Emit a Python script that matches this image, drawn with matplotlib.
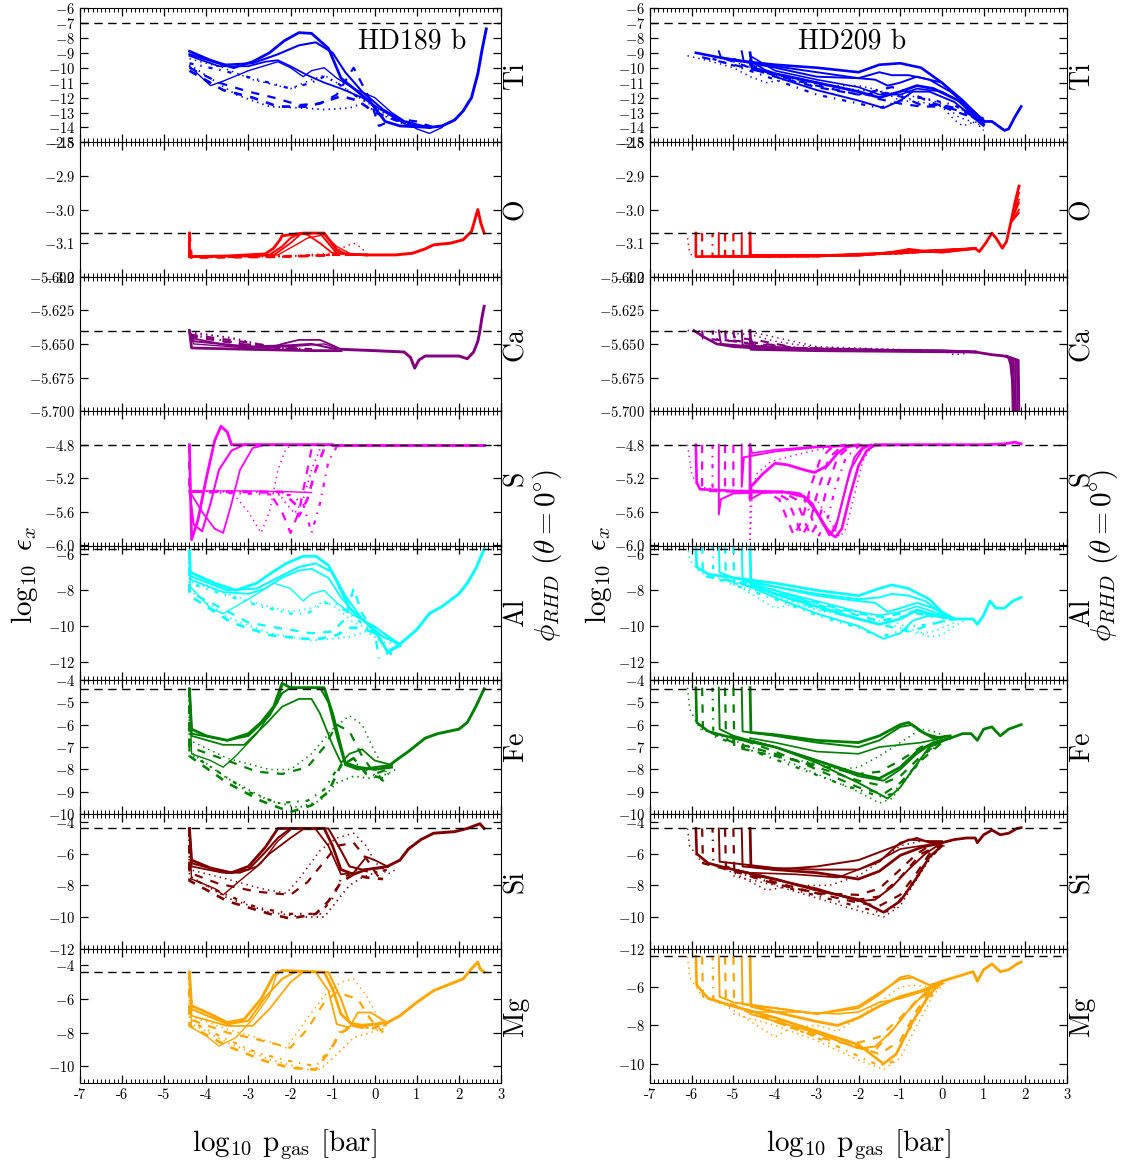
import matplotlib
matplotlib.use('Agg')
import matplotlib.pyplot as plt
from matplotlib.ticker import MultipleLocator, FuncFormatter

plt.rcParams['font.family'] = ['cmr10', 'DejaVu Serif']
plt.rcParams['mathtext.fontset'] = 'cm'
plt.rcParams['axes.unicode_minus'] = False
plt.rcParams['axes.formatter.use_mathtext'] = True
plt.rcParams['lines.scale_dashes'] = False
plt.rcParams['lines.dashed_pattern'] = [6, 6]
plt.rcParams['lines.dashdot_pattern'] = [3, 5, 1, 5]
plt.rcParams['lines.dotted_pattern'] = [1, 3]

elements = ['Ti', 'O', 'Ca', 'S', 'Al', 'Fe', 'Si', 'Mg']
colors = ['blue', 'red', 'purple', 'magenta', 'cyan', 'green', 'maroon', 'orange']
solar = [-7.0, -3.07, -5.64, -4.8, -5.7, -4.4, -4.4, -4.4]
ylims189 = [(-15, -6), (-3.2, -2.8), (-5.7, -5.6), (-6.0, -4.4), (-13, -5.5), (-10, -4), (-12, -3.5), (-11, -3)]
ylims209 = [(-15, -6), (-3.2, -2.8), (-5.7, -5.6), (-6.0, -4.4), (-13, -5.5), (-10, -4), (-12, -3.5), (-11, -4)]
yticks189 = [[-15, -14, -13, -12, -11, -10, -9, -8, -7, -6], [-3.2, -3.1, -3.0, -2.9, -2.8],
             [-5.7, -5.675, -5.65, -5.625, -5.6], [-6.0, -5.6, -5.2, -4.8], [-12, -10, -8, -6],
             [-10, -9, -8, -7, -6, -5, -4], [-12, -10, -8, -6, -4], [-10, -8, -6, -4]]
yticks209 = yticks189[:7] + [[-10, -8, -6]]
yfmt = ['%d', '%.1f', '%.3f', '%.1f', '%d', '%d', '%d', '%d']
xticks = [-7, -6, -5, -4, -3, -2, -1, 0, 1, 2, 3]
xticklabels = ['-7', '-6', '-5', '-4', '-3', '-2', '-1', '0', '1', '2', '3']

# ---------------- HD189 b (left column) ----------------
ti189 = [
    [(-4.4,-8.9),(-3.9,-9.5),(-3.35,-10.0),(-2.9,-9.6),(-2.5,-9.0),(-2.15,-8.2),(-1.8,-7.65),(-1.5,-7.7),(-1.1,-8.7),(-0.8,-10.7),(-0.45,-11.5),(-0.1,-12.3),(0.25,-13.6),(0.6,-13.9),(1.3,-14.0)],
    [(-4.4,-9.1),(-3.6,-9.8),(-2.9,-9.7),(-2.3,-9.1),(-1.8,-8.5),(-1.4,-8.3),(-1.0,-9.0),(-0.7,-10.3),(-0.3,-11.6),(0.2,-12.8),(0.7,-13.6),(1.3,-14.0)],
    [(-4.4,-9.2),(-3.7,-9.9),(-3.0,-9.9),(-2.6,-9.6),(-2.3,-9.5),(-2.0,-9.9),(-1.6,-10.5),(-1.2,-11.0),(-0.8,-11.4),(-0.3,-12.0),(0.2,-12.9),(0.8,-13.9),(1.3,-14.0)],
    [(-4.4,-9.9),(-3.9,-11.2),(-3.6,-10.9),(-3.0,-10.2),(-2.3,-9.6),(-2.0,-10.0),(-1.7,-10.6),(-1.5,-10.2),(-1.2,-10.0),(-0.9,-10.7),(-0.5,-11.4),(0.0,-12.0),(0.4,-13.0),(1.0,-14.1),(1.3,-14.4),(1.6,-14.0)],
    [(-4.4,-9.4),(-3.6,-10.0),(-2.9,-10.8),(-2.0,-11.4),(-1.5,-10.8),(-1.2,-10.5),(-0.9,-11.0),(-0.6,-11.6),(-0.2,-12.3),(0.3,-13.2),(0.8,-13.8),(1.3,-14.0)],
    [(-4.4,-10.0),(-3.7,-11.0),(-3.0,-11.6),(-2.4,-12.0),(-1.8,-12.5),(-1.3,-12.4),(-0.9,-11.8),(-0.5,-10.0),(-0.1,-12.2),(0.1,-13.9),(0.5,-13.4),(1.0,-13.6),(1.4,-14.0)],
    [(-4.4,-9.7),(-3.6,-10.2),(-2.9,-10.7),(-2.0,-11.4),(-1.5,-11.0),(-1.2,-10.6),(-0.9,-11.0),(-0.5,-11.8),(0.0,-12.6),(0.5,-13.3),(1.0,-13.9),(1.4,-14.0)],
    [(-4.4,-10.2),(-3.6,-11.5),(-2.9,-12.0),(-2.3,-12.6),(-1.6,-12.6),(-1.2,-12.3),(-0.8,-11.9),(-0.4,-12.2),(0.0,-13.0),(0.5,-13.5),(1.0,-13.8),(1.4,-14.0)],
    [(-4.4,-9.8),(-3.3,-11.8),(-2.5,-12.6),(-1.7,-12.7),(-1.2,-12.8),(-0.6,-12.7),(-0.3,-12.4),(0.2,-13.2),(0.8,-13.9),(1.3,-14.0)],
]
ti189_tail = [(1.3,-14.0),(1.6,-13.9),(1.9,-13.5),(2.1,-12.9),(2.3,-12.0),(2.45,-10.4),(2.55,-8.8),(2.65,-7.4)]

o189 = [
    [(-4.4,-3.07),(-4.4,-3.14),(-3.5,-3.138),(-2.6,-3.132),(-2.4,-3.115),(-2.25,-3.09),(-2.2,-3.078),(-2.0,-3.075),(-1.7,-3.07),(-1.2,-3.07),(-0.9,-3.12),(-0.7,-3.132),(-0.2,-3.135)],
    [(-4.4,-3.07),(-4.4,-3.14),(-3.0,-3.139),(-2.5,-3.135),(-2.2,-3.11),(-2.0,-3.085),(-1.8,-3.072),(-1.3,-3.07),(-1.1,-3.1),(-0.9,-3.13),(-0.2,-3.135)],
    [(-4.4,-3.14),(-2.4,-3.136),(-2.0,-3.1),(-1.75,-3.072),(-1.6,-3.075),(-1.3,-3.1),(-1.0,-3.13),(-0.2,-3.135)],
    [(-4.4,-3.14),(-2.3,-3.135),(-1.8,-3.1),(-1.6,-3.085),(-1.2,-3.075),(-0.9,-3.11),(-0.6,-3.13)],
    [(-4.4,-3.14),(-2.0,-3.138),(-1.0,-3.13),(-0.7,-3.11),(-0.5,-3.1),(-0.3,-3.115),(-0.2,-3.133)],
    [(-4.4,-3.07),(-4.4,-3.142),(-2.0,-3.14),(-1.0,-3.135),(-0.2,-3.135)],
    [(-4.4,-3.142),(-2.5,-3.14),(-1.2,-3.135),(-0.2,-3.135)],
    [(-4.4,-3.07),(-4.35,-3.143),(-2.5,-3.141),(-1.0,-3.136)],
    [(-4.4,-3.14),(-2.5,-3.14),(-1.0,-3.136)],
]
o189_tail = [(-0.2,-3.135),(0.5,-3.135),(0.9,-3.13),(1.2,-3.117),(1.4,-3.105),(1.8,-3.1),(2.1,-3.09),(2.3,-3.065),(2.45,-3.0),(2.52,-3.04),(2.6,-3.07)]

ca189 = [
    [(-4.4,-5.640),(-4.35,-5.653),(-3.0,-5.654),(-1.5,-5.655),(-0.8,-5.655)],
    [(-4.4,-5.641),(-4.3,-5.648),(-3.0,-5.652),(-2.0,-5.651),(-1.5,-5.650),(-1.2,-5.652),(-0.9,-5.654)],
    [(-4.4,-5.641),(-4.3,-5.646),(-3.5,-5.651),(-2.5,-5.653),(-2.2,-5.650),(-1.8,-5.647),(-1.3,-5.647),(-1.0,-5.651),(-0.8,-5.654)],
    [(-4.4,-5.642),(-4.3,-5.650),(-3.0,-5.653),(-2.0,-5.652),(-1.2,-5.650),(-0.9,-5.653)],
    [(-4.4,-5.642),(-3.5,-5.645),(-2.5,-5.653),(-1.5,-5.654)],
    [(-4.4,-5.643),(-3.0,-5.649),(-2.2,-5.653),(-1.5,-5.654)],
    [(-4.4,-5.643),(-3.5,-5.648),(-2.5,-5.653),(-1.5,-5.654)],
    [(-4.4,-5.644),(-3.8,-5.647),(-2.8,-5.652),(-1.5,-5.654)],
    [(-4.4,-5.641),(-3.3,-5.646),(-2.5,-5.652),(-1.5,-5.654)],
]
ca189_tail = [(-0.8,-5.654),(0.0,-5.655),(0.7,-5.656),(0.85,-5.660),(0.95,-5.668),(1.05,-5.662),(1.2,-5.659),(1.6,-5.659),(2.0,-5.659),(2.2,-5.661),(2.35,-5.656),(2.45,-5.648),(2.5,-5.640),(2.55,-5.630),(2.6,-5.622)]

s189 = [
    [(-4.4,-4.8),(-4.35,-5.93),(-4.2,-5.7),(-4.0,-5.2),(-3.8,-4.75),(-3.65,-4.58),(-3.5,-4.65),(-3.4,-4.8),(-1.0,-4.8)],
    [(-4.4,-5.35),(-4.3,-5.75),(-4.1,-5.83),(-3.9,-5.5),(-3.7,-5.1),(-3.4,-4.87),(-3.1,-4.8),(-1.0,-4.8)],
    [(-4.4,-5.35),(-4.1,-5.6),(-3.8,-5.8),(-3.6,-5.85),(-3.4,-5.5),(-3.2,-5.1),(-2.9,-4.84),(-2.6,-4.8)],
    [(-4.4,-5.35),(-3.0,-5.35),(-2.0,-5.36),(-1.5,-5.37)],
    [(-4.4,-5.35),(-3.4,-5.36),(-3.0,-5.6),(-2.7,-5.85),(-2.5,-5.6),(-2.3,-5.1),(-2.1,-4.84),(-1.9,-4.8)],
    [(-4.4,-4.8),(-4.4,-5.35),(-2.5,-5.37),(-2.2,-5.6),(-2.0,-5.85),(-1.8,-5.6),(-1.6,-5.1),(-1.5,-4.85),(-1.3,-4.8)],
    [(-4.4,-5.36),(-2.0,-5.4),(-1.7,-5.5),(-1.5,-5.85),(-1.3,-5.5),(-1.1,-5.0),(-0.9,-4.82),(-0.8,-4.8)],
    [(-4.4,-4.8),(-4.4,-5.36),(-2.2,-5.36),(-1.9,-5.5),(-1.8,-5.65),(-1.6,-5.45),(-1.4,-5.1),(-1.2,-4.85),(-1.1,-4.8)],
    [(-4.4,-5.35),(-2.3,-5.37),(-2.1,-5.5),(-1.9,-5.62),(-1.7,-5.45),(-1.5,-5.1),(-1.3,-4.85),(-1.2,-4.8)],
]
s189_tail = [(-1.0,-4.8),(0.5,-4.8),(2.0,-4.8),(2.6,-4.8)]

al189 = [
    [(-4.4,-5.8),(-4.38,-7.0),(-3.8,-7.6),(-3.3,-8.0),(-2.8,-7.6),(-2.5,-7.1),(-2.1,-6.5),(-1.7,-6.1),(-1.4,-6.1),(-1.1,-6.6),(-0.9,-7.5),(-0.6,-9.0),(-0.2,-9.8),(0.1,-10.6),(0.3,-11.4),(0.6,-11.1)],
    [(-4.4,-5.8),(-4.38,-7.2),(-3.5,-8.0),(-2.8,-7.9),(-2.3,-7.3),(-1.8,-6.7),(-1.4,-6.5),(-1.0,-7.0),(-0.7,-8.3),(-0.3,-9.6),(0.2,-10.6),(0.6,-11.0)],
    [(-4.4,-5.8),(-4.38,-7.4),(-3.6,-8.1),(-3.0,-8.2),(-2.6,-7.9),(-2.2,-7.3),(-1.8,-6.9),(-1.5,-6.8),(-1.1,-7.3),(-0.8,-8.4),(-0.4,-9.5),(0.1,-10.2),(0.6,-11.0)],
    [(-4.4,-5.8),(-4.38,-7.8),(-3.9,-9.0),(-3.6,-9.3),(-3.0,-8.5),(-2.4,-7.6),(-2.0,-7.9),(-1.7,-8.6),(-1.5,-8.2),(-1.2,-8.0),(-0.9,-8.7),(-0.5,-9.4),(0.0,-10.0),(0.3,-10.6),(0.6,-11.1)],
    [(-4.4,-5.8),(-4.4,-7.5),(-3.5,-8.2),(-2.7,-8.8),(-2.0,-9.2),(-1.5,-9.0),(-1.2,-8.6),(-0.9,-9.0),(-0.5,-9.8),(0.0,-10.3),(0.5,-11.0)],
    [(-4.4,-5.8),(-4.4,-8.1),(-3.8,-8.8),(-3.0,-9.8),(-2.3,-10.1),(-1.5,-10.4),(-1.0,-10.3),(-0.7,-9.6),(-0.5,-7.9),(-0.3,-9.3),(0.0,-10.3),(0.1,-11.8)],
    [(-4.4,-5.8),(-4.4,-7.6),(-3.5,-8.3),(-2.7,-8.9),(-2.0,-9.3),(-1.6,-9.3),(-1.2,-8.7),(-0.9,-8.8),(-0.6,-9.3),(0.0,-10.4),(0.6,-11.0)],
    [(-4.4,-5.8),(-4.4,-8.3),(-3.4,-9.8),(-2.5,-10.5),(-1.7,-10.7),(-1.3,-10.7),(-0.9,-10.5),(-0.6,-10.1),(-0.3,-10.1),(0.0,-10.4),(0.4,-11.6)],
    [(-4.4,-5.8),(-4.4,-8.0),(-3.5,-9.5),(-2.5,-10.4),(-1.5,-10.8),(-1.0,-10.7),(-0.6,-10.6),(-0.2,-10.3),(0.2,-10.9),(0.6,-11.0)],
]
al189_tail = [(0.3,-11.5),(0.6,-11.0),(1.0,-10.2),(1.3,-9.3),(1.6,-8.9),(2.0,-8.2),(2.2,-7.6),(2.4,-6.8),(2.6,-5.7)]

fe189 = [
    [(-4.4,-4.4),(-4.35,-6.2),(-4.0,-6.5),(-3.5,-6.7),(-3.0,-6.4),(-2.7,-5.9),(-2.4,-5.2),(-2.2,-4.15),(-2.0,-4.35),(-1.2,-4.35),(-1.0,-5.5),(-0.8,-7.0),(-0.7,-7.7),(-0.4,-7.9),(0.0,-8.0),(0.4,-7.9)],
    [(-4.4,-4.4),(-4.35,-6.4),(-3.5,-6.7),(-3.0,-6.5),(-2.5,-5.6),(-2.2,-4.6),(-2.0,-4.35),(-1.3,-4.35),(-1.1,-5.0),(-0.9,-6.5),(-0.7,-7.8),(-0.4,-8.0),(0.0,-7.9),(0.4,-7.8)],
    [(-4.4,-4.4),(-4.35,-6.5),(-3.6,-6.9),(-3.1,-6.9),(-2.6,-6.0),(-2.2,-5.2),(-1.8,-4.85),(-1.5,-4.85),(-1.3,-5.5),(-1.0,-6.9),(-0.8,-7.7),(-0.6,-7.3),(-0.3,-7.1),(0.0,-7.6),(0.4,-7.8)],
    [(-4.4,-4.4),(-4.35,-7.3),(-3.9,-7.6),(-3.6,-7.9),(-3.3,-7.4),(-2.8,-6.4),(-2.3,-5.0),(-2.2,-4.3)],
    [(-4.4,-4.4),(-4.4,-6.7),(-3.5,-7.5),(-2.5,-8.0),(-2.0,-8.0),(-1.5,-7.3),(-1.0,-6.2),(-0.6,-5.6),(-0.3,-6.0),(0.0,-7.2),(0.3,-8.2),(0.5,-8.0)],
    [(-4.4,-4.4),(-4.4,-7.0),(-3.5,-7.6),(-2.8,-8.1),(-2.2,-8.2),(-1.6,-7.9),(-1.2,-7.0),(-0.9,-6.0),(-0.6,-6.3),(-0.3,-7.4),(0.0,-8.2),(0.3,-8.0)],
    [(-4.4,-4.4),(-4.4,-7.3),(-3.8,-8.0),(-3.0,-9.0),(-2.3,-9.5),(-1.6,-9.4),(-1.2,-8.9),(-0.9,-8.0),(-0.6,-7.6),(-0.3,-7.9),(0.2,-8.5),(0.4,-8.0)],
    [(-4.4,-4.4),(-4.4,-7.4),(-3.5,-8.6),(-2.7,-9.4),(-2.0,-9.9),(-1.5,-9.6),(-1.1,-9.0),(-0.8,-7.8),(-0.5,-7.5),(-0.2,-8.2),(0.2,-8.4)],
    [(-4.4,-4.4),(-4.4,-7.2),(-3.5,-8.4),(-2.5,-9.4),(-1.8,-9.7),(-1.3,-9.4),(-0.9,-8.6),(-0.5,-8.3),(-0.1,-8.4),(0.3,-8.2)],
]
fe189_tail = [(0.3,-7.9),(0.5,-7.6),(0.8,-7.2),(1.2,-6.6),(1.5,-6.4),(2.0,-6.2),(2.2,-5.9),(2.4,-5.2),(2.6,-4.4)]

si189 = [
    [(-4.4,-4.4),(-4.35,-6.4),(-3.9,-6.9),(-3.4,-7.2),(-3.0,-6.8),(-2.6,-5.6),(-2.3,-4.4),(-1.2,-4.4),(-1.0,-5.5),(-0.8,-7.0),(-0.5,-7.3),(-0.2,-7.0),(0.3,-6.8)],
    [(-4.4,-4.4),(-4.35,-6.6),(-3.5,-7.2),(-3.0,-7.0),(-2.6,-5.9),(-2.3,-5.0),(-2.0,-4.4),(-1.1,-4.4),(-0.8,-5.8),(-0.6,-6.8),(-0.3,-7.0),(0.2,-6.9)],
    [(-4.4,-4.4),(-4.35,-6.8),(-3.6,-7.2),(-3.2,-7.2),(-2.8,-6.8),(-2.5,-6.0),(-2.0,-5.0),(-1.7,-4.45),(-1.4,-4.45),(-1.1,-5.5),(-0.8,-7.3),(-0.5,-7.2),(-0.2,-6.2),(0.0,-6.4),(0.3,-6.8)],
    [(-4.4,-4.4),(-4.35,-7.6),(-3.8,-8.2),(-3.6,-8.6),(-3.2,-7.7),(-2.7,-6.6),(-2.3,-5.2),(-2.0,-4.5)],
    [(-4.4,-4.4),(-4.4,-7.0),(-3.5,-7.6),(-2.7,-8.2),(-2.1,-8.5),(-1.8,-7.6),(-1.3,-5.8),(-0.9,-5.0),(-0.5,-4.7),(-0.2,-5.5),(0.0,-6.5),(0.3,-7.3),(0.5,-7.0)],
    [(-4.4,-4.4),(-4.4,-7.2),(-3.7,-7.9),(-2.8,-8.4),(-2.0,-8.6),(-1.6,-7.8),(-1.2,-6.5),(-0.9,-5.5),(-0.5,-5.3),(-0.2,-6.3),(0.1,-7.5)],
    [(-4.4,-4.4),(-4.4,-7.5),(-3.6,-8.5),(-2.8,-9.4),(-2.0,-9.8),(-1.3,-9.8),(-1.0,-8.8),(-0.8,-7.6),(-0.4,-7.0),(0.0,-7.2),(0.3,-7.0)],
    [(-4.4,-4.4),(-4.4,-7.7),(-3.5,-9.0),(-2.5,-9.8),(-2.0,-10.1),(-1.4,-9.8),(-1.1,-9.0),(-0.8,-7.8),(-0.5,-7.3),(-0.2,-7.5),(0.2,-7.6)],
    [(-4.4,-4.4),(-4.4,-7.4),(-3.5,-8.8),(-2.5,-9.7),(-1.7,-10.0),(-1.2,-10.0),(-0.9,-9.0),(-0.6,-8.0),(-0.3,-7.5),(0.1,-7.1)],
]
si189_tail = [(0.3,-6.8),(0.6,-6.4),(0.8,-5.7),(1.1,-5.1),(1.4,-4.7),(1.9,-4.6),(2.2,-4.4),(2.4,-4.2),(2.5,-4.1),(2.6,-4.4)]

mg189 = [
    [(-4.4,-4.4),(-4.35,-6.4),(-3.9,-6.9),(-3.5,-7.4),(-3.1,-7.2),(-2.7,-6.0),(-2.4,-4.6),(-2.2,-4.3),(-1.2,-4.4),(-1.0,-5.4),(-0.8,-6.9),(-0.5,-7.6),(0.0,-7.5),(0.3,-7.4)],
    [(-4.4,-4.4),(-4.35,-6.6),(-3.5,-7.5),(-3.0,-7.3),(-2.6,-5.9),(-2.2,-4.8),(-1.9,-4.4),(-1.1,-4.4),(-0.8,-6.0),(-0.6,-7.4),(-0.2,-7.6),(0.2,-7.4)],
    [(-4.4,-4.4),(-4.35,-7.0),(-3.5,-7.6),(-2.9,-7.6),(-2.5,-6.6),(-2.0,-5.0),(-1.7,-4.4),(-1.4,-4.4),(-1.1,-5.5),(-0.9,-7.5),(-0.6,-7.7),(-0.4,-6.8),(-0.1,-6.8),(0.3,-7.4)],
    [(-4.4,-4.4),(-4.35,-7.7),(-4.0,-8.2),(-3.7,-8.8),(-3.3,-8.3),(-2.9,-7.2),(-2.5,-5.8),(-2.3,-4.3)],
    [(-4.4,-4.4),(-4.4,-7.0),(-3.5,-7.8),(-2.8,-8.3),(-2.1,-8.9),(-1.7,-7.5),(-1.2,-5.8),(-0.8,-5.0),(-0.5,-4.8),(-0.2,-5.8),(0.1,-7.2),(0.3,-7.6)],
    [(-4.4,-4.4),(-4.4,-7.2),(-3.5,-8.0),(-2.8,-8.4),(-2.0,-8.9),(-1.6,-7.8),(-1.2,-6.2),(-0.9,-5.6),(-0.4,-6.0),(-0.1,-7.2),(0.2,-8.0)],
    [(-4.4,-4.4),(-4.4,-7.3),(-3.6,-8.3),(-2.8,-9.2),(-2.0,-9.7),(-1.4,-10.0),(-1.0,-8.8),(-0.8,-7.8),(-0.4,-7.6),(0.0,-7.8),(0.3,-7.5)],
    [(-4.4,-4.4),(-4.4,-7.6),(-3.5,-8.8),(-2.6,-9.7),(-2.0,-10.1),(-1.4,-10.2),(-1.1,-9.2),(-0.8,-8.0),(-0.5,-7.6),(-0.1,-7.8),(0.2,-7.5)],
    [(-4.4,-4.4),(-4.4,-7.4),(-3.5,-8.6),(-2.5,-9.6),(-1.6,-10.2),(-1.3,-10.2),(-0.9,-9.3),(-0.5,-8.3),(-0.1,-8.0),(0.3,-7.7)],
]
mg189_tail = [(0.3,-7.4),(0.6,-7.0),(1.0,-6.2),(1.4,-5.5),(1.8,-5.1),(2.1,-4.8),(2.3,-4.2),(2.45,-3.8),(2.5,-4.2),(2.6,-4.4)]

# ---------------- HD209 b (right column) ----------------
ti209 = [
    [(-5.9,-9.0),(-5.0,-9.5),(-4.0,-9.8),(-3.0,-10.0),(-2.0,-10.3),(-1.5,-9.8),(-1.0,-9.7),(-0.5,-10.0),(0.0,-11.0),(0.5,-12.2),(1.0,-13.6)],
    [(-5.35,-8.9),(-5.3,-9.3),(-4.0,-9.9),(-3.0,-10.3),(-2.0,-10.7),(-1.5,-10.3),(-1.2,-10.5),(-0.8,-10.5),(-0.3,-10.8),(0.2,-11.6),(0.6,-12.5),(1.0,-13.5)],
    [(-4.8,-8.9),(-4.75,-9.6),(-4.0,-10.0),(-3.0,-10.6),(-2.0,-10.7),(-1.6,-10.8),(-1.3,-11.2),(-1.0,-11.0),(-0.6,-10.6),(0.0,-11.0),(0.5,-12.3),(1.0,-13.7)],
    [(-4.6,-9.0),(-4.55,-10.0),(-4.0,-10.4),(-3.0,-11.0),(-2.0,-11.6),(-1.5,-12.0),(-1.0,-11.6),(-0.6,-11.2),(-0.2,-11.4),(0.4,-12.2),(1.0,-13.8)],
    [(-4.6,-9.2),(-4.0,-10.2),(-3.0,-10.8),(-2.0,-11.3),(-1.5,-11.8),(-1.0,-11.8),(-0.6,-11.4),(0.0,-11.6),(0.5,-12.4),(1.0,-13.6)],
    [(-4.6,-9.5),(-4.0,-10.6),(-3.0,-11.5),(-2.0,-12.2),(-1.4,-12.7),(-1.0,-12.2),(-0.7,-11.6),(-0.3,-11.6),(0.3,-12.3),(1.0,-13.9)],
    [(-5.75,-9.3),(-5.0,-9.8),(-4.0,-10.5),(-3.0,-11.2),(-2.0,-11.8),(-1.3,-11.7),(-0.9,-12.0),(-0.5,-12.5),(0.0,-12.5),(0.5,-12.8),(1.0,-13.5)],
    [(-5.2,-9.4),(-4.0,-10.6),(-3.0,-11.3),(-2.0,-11.8),(-1.2,-11.3),(-0.8,-11.6),(-0.3,-12.3),(0.3,-12.8),(1.0,-13.4)],
    [(-5.0,-9.4),(-4.0,-10.4),(-3.0,-11.0),(-2.0,-11.6),(-1.5,-12.1),(-1.0,-12.4),(-0.5,-12.6),(0.0,-12.6),(0.5,-13.1),(1.0,-13.6)],
    [(-5.5,-9.4),(-4.5,-10.3),(-3.0,-11.8),(-2.0,-12.4),(-1.5,-12.7),(-1.0,-12.2),(-0.5,-12.0),(0.3,-12.5),(1.0,-13.8)],
    [(-6.1,-9.2),(-5.5,-9.6),(-5.0,-10.0),(-4.6,-10.6),(-4.2,-11.0),(-3.8,-10.8),(-3.0,-11.2),(-2.0,-11.2),(-1.5,-11.5),(-1.0,-12.2),(-0.5,-12.3),(0.0,-12.6),(0.3,-13.5),(0.5,-13.9),(0.8,-13.6),(1.0,-14.2)],
    [(-5.0,-9.6),(-4.0,-10.5),(-3.0,-11.1),(-2.0,-11.5),(-1.5,-11.6),(-1.0,-11.8),(-0.5,-12.0),(0.0,-12.4),(0.4,-13.3),(1.0,-13.9)],
]
ti209_tail = [(1.0,-13.6),(1.2,-13.6),(1.35,-13.9),(1.5,-14.2),(1.6,-14.1),(1.75,-13.3),(1.9,-12.6)]

o209 = [
    [(-5.9,-3.07),(-5.9,-3.14),(-4.0,-3.139),(-2.0,-3.136),(-1.0,-3.126),(-0.8,-3.118),(-0.5,-3.123),(0.0,-3.127),(0.5,-3.12),(0.8,-3.116)],
    [(-5.35,-3.07),(-5.35,-3.14),(-3.0,-3.138),(-1.5,-3.132),(-0.9,-3.12),(-0.6,-3.122),(0.0,-3.127),(0.8,-3.116)],
    [(-4.8,-3.07),(-4.8,-3.138),(-3.0,-3.137),(-1.5,-3.132),(-1.0,-3.124),(-0.5,-3.126),(0.8,-3.116)],
    [(-4.6,-3.07),(-4.6,-3.138),(-3.0,-3.138),(-1.0,-3.128),(0.8,-3.116)],
    [(-4.6,-3.07),(-4.58,-3.135),(-2.0,-3.135),(-1.0,-3.126),(0.8,-3.116)],
    [(-4.6,-3.135),(-2.0,-3.137),(-0.8,-3.125),(0.8,-3.116)],
    [(-5.75,-3.07),(-5.75,-3.14),(-3.0,-3.139),(-1.0,-3.13),(0.8,-3.116)],
    [(-5.2,-3.07),(-5.2,-3.14),(-3.0,-3.139),(-1.0,-3.13),(0.8,-3.116)],
    [(-5.0,-3.07),(-5.0,-3.14),(-3.0,-3.138),(-1.0,-3.13),(0.8,-3.116)],
    [(-5.5,-3.07),(-5.5,-3.14),(-3.0,-3.139),(-1.0,-3.13),(0.8,-3.116)],
    [(-6.1,-3.085),(-6.05,-3.13),(-5.95,-3.14),(-3.0,-3.139),(-1.0,-3.132),(0.8,-3.116)],
    [(-5.0,-3.139),(-3.0,-3.138),(-1.0,-3.13),(0.8,-3.116)],
]
o209_tail = [(0.8,-3.116),(0.9,-3.125),(1.05,-3.1),(1.2,-3.07),(1.3,-3.085),(1.45,-3.115),(1.55,-3.095),(1.65,-3.04),(1.75,-2.98),(1.85,-2.93)]
o209_fan = [-2.95, -2.97, -2.98, -3.0, -3.01]

ca209 = [
    [(-5.95,-5.640),(-5.7,-5.645),(-5.4,-5.650),(-5.0,-5.652),(-4.0,-5.654),(-2.0,-5.655),(0.0,-5.655),(0.8,-5.656)],
    [(-5.35,-5.640),(-5.3,-5.650),(-4.5,-5.652),(-3.0,-5.654),(0.0,-5.655),(0.8,-5.656)],
    [(-4.8,-5.640),(-4.78,-5.651),(-3.0,-5.654),(0.8,-5.656)],
    [(-4.6,-5.640),(-4.58,-5.654),(-3.0,-5.655),(0.8,-5.656)],
    [(-4.6,-5.645),(-4.5,-5.652),(-3.0,-5.654),(0.8,-5.656)],
    [(-4.6,-5.648),(-4.4,-5.654),(0.8,-5.656)],
    [(-5.75,-5.640),(-5.73,-5.646),(-5.0,-5.648),(-4.0,-5.653),(0.8,-5.656)],
    [(-5.2,-5.640),(-5.18,-5.647),(-4.5,-5.649),(-3.5,-5.653),(0.8,-5.656)],
    [(-5.0,-5.640),(-4.98,-5.645),(-4.3,-5.648),(-3.5,-5.653),(0.8,-5.656)],
    [(-5.5,-5.640),(-5.48,-5.646),(-4.5,-5.650),(-3.0,-5.654),(0.8,-5.656)],
    [(-6.1,-5.640),(-5.5,-5.641),(-4.6,-5.643),(-4.0,-5.648),(-3.0,-5.653),(0.0,-5.655),(0.3,-5.658),(0.6,-5.657)],
    [(-4.6,-5.641),(-4.0,-5.645),(-3.0,-5.652),(0.8,-5.656)],
]
ca209_tail = [(0.8,-5.656),(1.0,-5.657),(1.2,-5.658),(1.5,-5.659),(1.6,-5.660),(1.65,-5.665),(1.7,-5.680),(1.75,-5.710)]
ca209_fan = [1.68, 1.72, 1.76, 1.80, 1.84]

s209 = [
    [(-5.9,-4.8),(-5.88,-5.25),(-5.8,-5.33),(-5.0,-5.35),(-3.8,-5.36),(-3.3,-5.42),(-3.0,-5.6),(-2.7,-5.85),(-2.55,-5.9),(-2.4,-5.8),(-2.2,-5.4),(-2.0,-5.05),(-1.8,-4.87),(-1.6,-4.8)],
    [(-5.35,-4.8),(-5.35,-5.63),(-5.3,-5.45),(-5.0,-5.38),(-4.0,-5.36),(-3.5,-5.37),(-3.2,-5.45),(-2.9,-5.7),(-2.7,-5.88),(-2.55,-5.8),(-2.4,-5.5),(-2.2,-5.1),(-1.9,-4.85),(-1.7,-4.8)],
    [(-4.8,-4.8),(-4.8,-5.3),(-4.75,-4.95),(-4.0,-4.88),(-3.0,-4.83),(-2.0,-4.81),(0.0,-4.8)],
    [(-4.6,-4.8),(-4.6,-5.45),(-4.58,-5.3),(-4.3,-5.15),(-4.0,-5.02),(-3.7,-5.04),(-3.3,-5.1),(-3.05,-5.13),(-2.75,-5.05),(-2.5,-4.9),(-2.3,-4.83),(-2.0,-4.8)],
    [(-4.6,-4.8),(-4.55,-4.9),(-4.0,-4.86),(-3.0,-4.82),(-2.0,-4.81),(0.0,-4.8)],
    [(-4.6,-5.45),(-4.3,-5.37),(-3.8,-5.36),(-3.4,-5.38),(-3.1,-5.5),(-2.85,-5.75),(-2.65,-5.85),(-2.5,-5.7),(-2.3,-5.3),(-2.1,-4.95),(-1.9,-4.83),(-1.7,-4.8)],
    [(-5.75,-4.8),(-5.75,-5.3),(-5.6,-5.35),(-4.2,-5.37),(-3.9,-5.45),(-3.7,-5.7),(-3.55,-5.88),(-3.35,-5.7),(-3.15,-5.3),(-2.9,-4.95),(-2.6,-4.82),(-2.3,-4.8)],
    [(-5.2,-4.8),(-5.2,-5.3),(-5.05,-5.35),(-4.0,-5.37),(-3.7,-5.45),(-3.5,-5.7),(-3.35,-5.88),(-3.15,-5.7),(-2.95,-5.3),(-2.7,-4.95),(-2.4,-4.82),(-2.1,-4.8)],
    [(-5.0,-4.8),(-5.0,-5.3),(-4.85,-5.35),(-3.8,-5.37),(-3.5,-5.45),(-3.3,-5.7),(-3.15,-5.88),(-2.95,-5.7),(-2.75,-5.3),(-2.5,-4.95),(-2.2,-4.82),(-1.9,-4.8)],
    [(-5.5,-4.8),(-5.5,-5.3),(-5.35,-5.35),(-3.6,-5.37),(-3.3,-5.45),(-3.1,-5.7),(-2.95,-5.88),(-2.75,-5.7),(-2.55,-5.3),(-2.3,-4.95),(-2.0,-4.82),(-1.7,-4.8)],
    [(-6.1,-4.8),(-6.0,-5.15),(-5.85,-5.3),(-5.0,-5.36),(-3.5,-5.38),(-3.0,-5.45),(-2.7,-5.7),(-2.45,-5.9),(-2.3,-5.8),(-2.1,-5.4),(-1.9,-5.0),(-1.7,-4.83),(-1.5,-4.8)],
    [(-4.6,-4.8),(-4.6,-5.93),(-4.55,-5.4),(-4.45,-5.15),(-4.1,-5.0),(-3.5,-4.92),(-3.0,-4.86),(-2.5,-4.82),(-2.0,-4.8)],
]
s209_tail = [(-1.6,-4.8),(1.0,-4.8),(1.5,-4.79),(1.75,-4.77),(1.9,-4.79)]

al209 = [
    [(-5.9,-5.5),(-5.88,-6.7),(-5.6,-7.1),(-5.0,-7.3),(-4.0,-7.6),(-3.0,-8.0),(-2.0,-8.3),(-1.5,-7.9),(-1.2,-7.7),(-0.8,-7.9),(-0.3,-8.5),(0.0,-9.2),(0.3,-9.6)],
    [(-5.35,-5.5),(-5.33,-7.0),(-5.0,-7.3),(-4.0,-7.8),(-3.0,-8.2),(-2.0,-8.5),(-1.5,-8.4),(-1.2,-8.2),(-0.8,-8.3),(-0.4,-8.6),(0.0,-9.3),(0.3,-9.6)],
    [(-4.8,-5.5),(-4.78,-7.5),(-4.0,-7.8),(-3.0,-8.3),(-2.0,-8.6),(-1.6,-8.7),(-1.3,-9.2),(-1.0,-9.0),(-0.6,-8.7),(-0.2,-9.0),(0.3,-9.6)],
    [(-4.6,-5.5),(-4.58,-7.7),(-4.0,-8.2),(-3.0,-8.9),(-2.0,-9.6),(-1.5,-9.9),(-1.0,-9.6),(-0.6,-9.1),(-0.3,-9.3),(0.3,-9.6)],
    [(-4.6,-7.6),(-4.0,-8.0),(-3.0,-8.6),(-2.0,-9.2),(-1.5,-9.4),(-1.0,-9.2),(-0.6,-8.9),(-0.2,-9.2),(0.3,-9.6)],
    [(-4.6,-7.8),(-4.0,-8.4),(-3.0,-9.3),(-2.0,-10.0),(-1.4,-10.7),(-1.0,-10.4),(-0.7,-9.7),(-0.3,-9.4),(0.3,-9.6)],
    [(-5.75,-5.5),(-5.73,-7.2),(-5.0,-7.5),(-4.0,-8.0),(-3.0,-8.8),(-2.0,-9.4),(-1.5,-9.7),(-1.0,-9.5),(-0.6,-9.3),(-0.2,-9.4),(0.3,-9.6)],
    [(-5.2,-5.5),(-5.18,-7.4),(-4.0,-8.2),(-3.0,-9.0),(-2.0,-9.6),(-1.3,-10.0),(-0.8,-10.3),(-0.5,-10.1),(-0.1,-9.8),(0.3,-9.6)],
    [(-5.0,-5.5),(-4.98,-7.6),(-4.0,-8.1),(-3.0,-8.7),(-2.0,-9.3),(-1.4,-9.5),(-1.0,-9.3),(-0.6,-9.2),(-0.2,-9.5),(0.3,-9.6)],
    [(-5.5,-5.5),(-5.48,-7.3),(-4.0,-8.5),(-3.0,-9.4),(-2.0,-10.1),(-1.5,-10.6),(-1.0,-10.3),(-0.7,-10.0),(-0.3,-9.9),(0.3,-9.6)],
    [(-6.1,-5.5),(-6.05,-6.3),(-5.8,-7.0),(-5.0,-7.6),(-4.5,-8.3),(-4.0,-9.0),(-3.6,-8.8),(-3.0,-9.0),(-2.0,-9.2),(-1.5,-9.5),(-1.0,-9.9),(-0.6,-10.3),(-0.3,-10.6),(0.0,-10.5),(0.3,-10.0),(0.6,-9.6)],
    [(-5.0,-7.7),(-4.0,-8.3),(-3.0,-9.1),(-2.0,-9.6),(-1.5,-9.7),(-1.0,-10.1),(-0.6,-10.4),(-0.2,-10.3),(0.3,-9.8)],
]
al209_tail = [(0.3,-9.6),(0.6,-9.6),(0.75,-9.6),(0.85,-9.9),(1.0,-9.4),(1.15,-8.6),(1.3,-9.0),(1.5,-9.0),(1.7,-8.6),(1.9,-8.4)]

fe209 = [
    [(-5.9,-4.35),(-5.88,-5.9),(-5.6,-6.3),(-5.0,-6.6),(-4.0,-7.0),(-3.0,-7.6),(-2.0,-8.2),(-1.5,-8.4),(-1.0,-7.9),(-0.6,-7.2),(-0.2,-6.8),(0.2,-6.6)],
    [(-5.35,-4.35),(-5.33,-6.2),(-5.0,-6.5),(-4.0,-7.0),(-3.0,-7.7),(-2.0,-8.6),(-1.3,-9.3),(-1.0,-8.8),(-0.7,-8.0),(-0.3,-7.0),(0.2,-6.6)],
    [(-4.8,-4.35),(-4.78,-6.3),(-4.0,-6.5),(-3.0,-6.8),(-2.0,-7.0),(-1.5,-6.7),(-1.0,-6.1),(-0.7,-6.0),(-0.4,-6.4),(0.0,-6.6)],
    [(-4.6,-4.35),(-4.58,-6.35),(-4.0,-6.45),(-3.0,-6.7),(-2.0,-6.8),(-1.5,-6.5),(-1.0,-6.0),(-0.8,-5.9),(-0.5,-6.3),(-0.2,-6.6),(0.2,-6.5)],
    [(-4.6,-6.6),(-4.0,-6.8),(-3.0,-7.2),(-2.0,-7.3),(-1.5,-7.0),(-1.0,-6.9),(-0.5,-6.8),(0.0,-6.6)],
    [(-4.6,-6.7),(-4.0,-7.0),(-3.0,-7.6),(-2.0,-8.3),(-1.4,-8.5),(-1.0,-8.0),(-0.6,-7.3),(-0.2,-6.8),(0.2,-6.6)],
    [(-5.75,-4.35),(-5.73,-6.2),(-5.0,-6.8),(-4.0,-7.3),(-3.0,-7.9),(-2.0,-8.5),(-1.5,-8.7),(-1.0,-8.3),(-0.5,-7.4),(0.0,-6.7)],
    [(-5.2,-4.35),(-5.18,-6.4),(-4.0,-7.2),(-3.0,-8.0),(-2.0,-8.8),(-1.4,-9.1),(-1.0,-8.6),(-0.5,-7.6),(0.0,-6.8)],
    [(-5.0,-4.35),(-4.98,-7.0),(-4.0,-7.4),(-3.0,-7.8),(-2.0,-8.2),(-1.5,-8.1),(-1.0,-7.6),(-0.5,-7.0),(0.0,-6.7)],
    [(-5.5,-4.35),(-5.48,-6.5),(-4.5,-7.2),(-3.5,-7.9),(-2.5,-8.6),(-1.5,-9.2),(-1.2,-9.1),(-0.8,-8.3),(-0.3,-7.1),(0.0,-6.7)],
    [(-6.1,-4.35),(-6.05,-5.3),(-5.8,-6.2),(-5.0,-6.7),(-4.0,-7.4),(-3.0,-8.2),(-2.0,-9.0),(-1.5,-9.5),(-1.2,-9.3),(-0.8,-8.3),(-0.4,-7.3),(0.0,-6.8)],
    [(-3.5,-7.6),(-3.0,-7.7),(-2.5,-8.0),(-2.0,-7.9),(-1.5,-7.4),(-1.0,-6.8),(-0.5,-6.2),(-0.2,-6.3),(0.2,-6.6)],
]
fe209_tail = [(0.2,-6.6),(0.5,-6.4),(0.7,-6.4),(0.85,-6.7),(1.0,-6.2),(1.2,-6.1),(1.4,-6.5),(1.6,-6.2),(1.9,-6.0)]

si209 = [
    [(-5.9,-4.4),(-5.88,-6.0),(-5.6,-6.6),(-5.0,-7.0),(-4.0,-7.6),(-3.0,-8.3),(-2.0,-8.9),(-1.4,-9.7),(-1.0,-9.0),(-0.6,-7.5),(-0.3,-6.2),(0.0,-5.5)],
    [(-5.35,-4.4),(-5.33,-6.5),(-5.0,-6.6),(-4.0,-6.9),(-3.0,-7.0),(-2.0,-7.0),(-1.5,-6.5),(-1.0,-5.3),(-0.6,-5.0),(-0.3,-5.3),(0.0,-5.3)],
    [(-4.8,-4.4),(-4.78,-6.8),(-4.0,-7.0),(-3.0,-6.8),(-2.0,-6.4),(-1.5,-5.9),(-1.0,-5.4),(-0.8,-5.1),(-0.3,-5.2),(0.0,-5.2)],
    [(-4.6,-4.4),(-4.58,-6.8),(-4.0,-7.0),(-3.0,-7.2),(-2.0,-7.6),(-1.5,-7.1),(-1.0,-6.1),(-0.5,-5.6),(0.0,-5.3)],
    [(-4.6,-7.2),(-3.5,-7.3),(-2.5,-7.5),(-2.0,-7.0),(-1.5,-6.4),(-1.0,-5.7),(-0.5,-5.5),(0.0,-5.3)],
    [(-4.6,-7.3),(-3.0,-8.2),(-2.0,-9.0),(-1.6,-8.9),(-1.2,-8.1),(-0.8,-7.0),(-0.4,-6.0),(0.0,-5.3)],
    [(-5.75,-4.4),(-5.73,-6.6),(-5.0,-7.1),(-4.0,-7.9),(-3.0,-8.5),(-2.0,-9.1),(-1.5,-9.3),(-1.0,-8.6),(-0.6,-7.2),(-0.3,-6.0),(0.0,-5.4)],
    [(-5.2,-4.4),(-5.18,-6.8),(-4.0,-7.8),(-3.0,-8.5),(-2.0,-8.6),(-1.5,-8.2),(-1.0,-7.0),(-0.6,-6.0),(-0.3,-5.5),(0.0,-5.3)],
    [(-5.0,-4.4),(-4.98,-7.0),(-4.0,-7.6),(-3.0,-8.3),(-2.0,-8.9),(-1.5,-8.7),(-1.0,-7.5),(-0.5,-6.0),(0.0,-5.4)],
    [(-5.5,-4.4),(-5.48,-6.7),(-4.5,-7.5),(-3.5,-8.3),(-2.5,-9.0),(-1.5,-9.7),(-1.2,-9.6),(-0.8,-8.2),(-0.4,-6.6),(0.0,-5.5)],
    [(-6.1,-4.4),(-6.05,-5.5),(-5.8,-6.4),(-5.0,-7.2),(-4.2,-8.3),(-3.5,-8.0),(-2.7,-8.0),(-2.0,-7.4),(-1.5,-6.5),(-1.0,-5.5),(-0.5,-5.2),(0.0,-5.3)],
    [(-5.0,-7.4),(-4.0,-8.0),(-3.0,-8.8),(-2.0,-9.6),(-1.4,-10.0),(-1.0,-9.3),(-0.6,-7.6),(-0.2,-6.0),(0.1,-5.4)],
]
si209_tail = [(0.0,-5.3),(0.3,-5.1),(0.6,-5.0),(0.8,-5.0),(0.85,-5.3),(1.0,-4.8),(1.2,-4.5),(1.4,-4.8),(1.6,-4.7),(1.8,-4.4),(1.9,-4.35)]

mg209 = [
    [(-5.9,-4.4),(-5.88,-5.9),(-5.6,-6.6),(-5.0,-7.0),(-4.0,-7.6),(-3.0,-8.3),(-2.0,-9.0),(-1.4,-10.0),(-1.1,-9.5),(-0.7,-7.8),(-0.3,-6.4),(0.0,-5.7)],
    [(-5.35,-4.4),(-5.33,-6.5),(-5.0,-6.8),(-4.0,-7.1),(-3.0,-7.4),(-2.0,-7.1),(-1.5,-6.4),(-1.0,-5.5),(-0.8,-5.4),(-0.3,-5.9),(0.0,-5.7)],
    [(-4.8,-4.4),(-4.78,-6.9),(-4.0,-7.1),(-3.0,-7.4),(-2.0,-7.0),(-1.5,-6.3),(-1.0,-5.6),(-0.7,-5.5),(-0.3,-5.9),(0.0,-5.8)],
    [(-4.6,-4.4),(-4.58,-7.0),(-4.0,-7.3),(-3.0,-7.8),(-2.5,-8.0),(-2.0,-7.6),(-1.5,-7.0),(-1.0,-6.5),(-0.5,-6.2),(0.0,-5.8)],
    [(-4.6,-7.3),(-3.5,-7.3),(-2.5,-7.4),(-2.0,-7.3),(-1.5,-6.8),(-1.0,-6.6),(-0.4,-6.2),(0.0,-5.8)],
    [(-4.6,-7.4),(-3.0,-8.4),(-2.0,-9.2),(-1.6,-9.1),(-1.2,-8.3),(-0.8,-7.2),(-0.4,-6.3),(0.0,-5.7)],
    [(-5.75,-4.4),(-5.73,-6.5),(-5.0,-7.0),(-4.0,-7.8),(-3.0,-8.6),(-2.0,-9.1),(-1.5,-9.5),(-1.0,-8.8),(-0.6,-7.2),(-0.3,-6.3),(0.0,-5.8)],
    [(-5.2,-4.4),(-5.18,-6.8),(-4.0,-7.7),(-3.0,-8.5),(-2.0,-8.9),(-1.5,-8.6),(-1.0,-7.6),(-0.6,-6.7),(-0.2,-6.0),(0.0,-5.8)],
    [(-5.0,-4.4),(-4.98,-7.0),(-4.0,-7.6),(-3.0,-8.3),(-2.0,-9.2),(-1.6,-9.3),(-1.1,-8.0),(-0.6,-6.7),(0.0,-5.8)],
    [(-5.5,-4.4),(-5.48,-6.7),(-4.5,-7.4),(-3.5,-8.2),(-2.5,-9.1),(-1.5,-10.1),(-1.2,-9.9),(-0.8,-8.3),(-0.4,-6.8),(0.0,-5.8)],
    [(-6.1,-4.4),(-6.05,-5.5),(-5.8,-6.3),(-5.0,-7.2),(-4.3,-8.2),(-4.0,-8.6),(-3.6,-8.1),(-3.0,-8.0),(-2.5,-8.3),(-2.0,-7.6),(-1.5,-6.8),(-1.0,-6.0),(-0.7,-5.9),(-0.3,-6.0),(0.0,-5.8)],
    [(-5.0,-7.4),(-4.0,-8.0),(-3.0,-8.8),(-2.0,-9.8),(-1.4,-10.3),(-1.0,-9.7),(-0.6,-8.0),(-0.2,-6.4),(0.1,-5.7)],
]
mg209_tail = [(0.0,-5.7),(0.3,-5.5),(0.6,-5.3),(0.75,-5.2),(0.85,-5.7),(1.0,-5.1),(1.2,-4.8),(1.4,-5.2),(1.6,-5.1),(1.8,-4.8),(1.9,-4.7)]

curves189 = [ti189, o189, ca189, s189, al189, fe189, si189, mg189]
tails189 = [ti189_tail, o189_tail, ca189_tail, s189_tail, al189_tail, fe189_tail, si189_tail, mg189_tail]
curves209 = [ti209, o209, ca209, s209, al209, fe209, si209, mg209]
tails209 = [ti209_tail, o209_tail, ca209_tail, s209_tail, al209_tail, fe209_tail, si209_tail, mg209_tail]

# line styles (one per longitude)
styles189 = [('-', 2.0), ('-', 1.5), ('-', 1.3), ('-', 1.0), (':', 1.1),
             ('--', 1.6), ('-.', 1.6), ('--', 1.9), (':', 1.3)]
styles209 = [('-', 1.9), ('-', 1.4), ('-', 1.4), ('-', 2.0), ('-', 1.2), ('-', 1.4),
             ('--', 1.6), ('--', 1.6), ('--', 1.6), ('-.', 1.6), (':', 1.1), (':', 1.1)]

fig = plt.figure(figsize=(11.22, 11.65), dpi=100)
top = 1 - 8 / 1165
ph = 1075 / 1165 / 8
columns = [(80 / 1122, 421 / 1122, curves189, tails189, styles189, ylims189, yticks189, 'HD189 b', 0.789, 2.1),
           (650 / 1122, 417 / 1122, curves209, tails209, styles209, ylims209, yticks209, 'HD209 b', 0.484, 2.0)]

for left, width, curves, tails, styles, ylims, yticks, title, tx, tlw in columns:
    for i in range(8):
        ax = fig.add_axes([left, top - (i + 1) * ph, width, ph])
        c = colors[i]
        for cv, (ls, lw) in zip(curves[i], styles):
            xs = [p[0] for p in cv]
            ys = [p[1] for p in cv]
            ax.plot(xs, ys, ls=ls, lw=lw, color=c)
        xs = [p[0] for p in tails[i]]
        ys = [p[1] for p in tails[i]]
        ax.plot(xs, ys, '-', lw=tlw, color=c)
        if title == 'HD209 b' and elements[i] == 'O':
            for yf in o209_fan:
                ax.plot([1.65, 1.85], [-3.04, yf], '-', lw=1.2, color=c)
        if title == 'HD209 b' and elements[i] == 'Ca':
            for xf in ca209_fan:
                ax.plot([1.55, xf, xf + 0.02], [-5.659, -5.662, -5.71], '-', lw=1.4, color=c)
        ax.axhline(solar[i], color='k', ls=(0, (6, 4)), lw=1.0)
        ax.set_xlim(-7, 3)
        ax.set_ylim(*ylims[i])
        ax.set_yticks(yticks[i])
        fmt = yfmt[i]
        ax.yaxis.set_major_formatter(FuncFormatter(lambda v, p, f=fmt: '$%s$' % (f % v)))
        ax.set_xticks(xticks)
        ax.xaxis.set_minor_locator(MultipleLocator(0.1))
        ax.tick_params(axis='both', which='both', direction='in', top=True, right=True)
        ax.tick_params(axis='both', which='major', length=6, width=0.9, labelsize=10.5)
        ax.tick_params(axis='x', which='minor', length=3, width=0.7)
        if i == 7:
            ax.set_xticklabels(xticklabels)
        else:
            ax.set_xticklabels([])
        ax.text(1.035, 0.5, elements[i], transform=ax.transAxes, rotation=90,
                ha='center', va='center', fontsize=20)
        if i == 0:
            ax.text(tx, 0.75, title, transform=ax.transAxes, ha='center', va='center', fontsize=20)

fig.text(25 / 1122, 1 - 575 / 1165, r'$\log_{10}\ \epsilon_x$', rotation=90, ha='center', va='center', fontsize=21)
fig.text(548 / 1122, 1 - 555 / 1165, r'$\phi_{RHD}\ (\theta = 0^{\circ})$', rotation=90, ha='center', va='center', fontsize=21)
fig.text(598 / 1122, 1 - 575 / 1165, r'$\log_{10}\ \epsilon_x$', rotation=90, ha='center', va='center', fontsize=21)
fig.text(1103 / 1122, 1 - 555 / 1165, r'$\phi_{RHD}\ (\theta = 0^{\circ})$', rotation=90, ha='center', va='center', fontsize=21)
fig.text(284 / 1122, 1 - 1145 / 1165, r'log$_{10}$ p$_{\rm gas}$ [bar]', ha='center', va='center', fontsize=21)
fig.text(858 / 1122, 1 - 1145 / 1165, r'log$_{10}$ p$_{\rm gas}$ [bar]', ha='center', va='center', fontsize=21)

fig.savefig('out.png', dpi=100)
